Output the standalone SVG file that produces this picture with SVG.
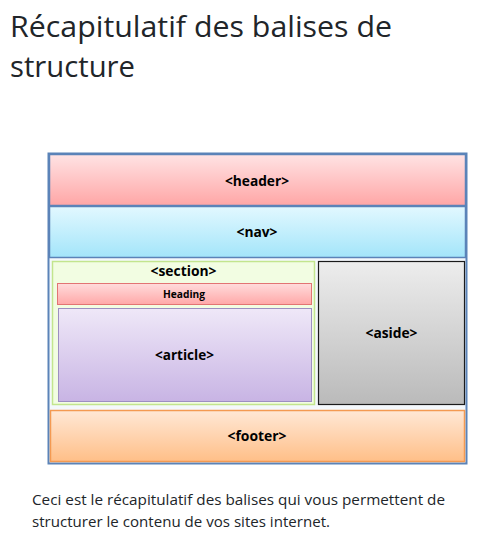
<svg xmlns="http://www.w3.org/2000/svg" width="500" height="555" viewBox="0 0 500 555">
<defs>
<linearGradient id="gHeader" x1="0" y1="0" x2="0" y2="1"><stop offset="0" stop-color="#ffe3e4"/><stop offset="1" stop-color="#ffa6a6"/></linearGradient>
<linearGradient id="gNav" x1="0" y1="0" x2="0" y2="1"><stop offset="0" stop-color="#e2f8ff"/><stop offset="1" stop-color="#a3e5fa"/></linearGradient>
<linearGradient id="gHeading" x1="0" y1="0" x2="0" y2="1"><stop offset="0" stop-color="#ffdcdc"/><stop offset="1" stop-color="#ffa8a8"/></linearGradient>
<linearGradient id="gArticle" x1="0" y1="0" x2="0" y2="1"><stop offset="0" stop-color="#efe8f8"/><stop offset="1" stop-color="#c8b4e4"/></linearGradient>
<linearGradient id="gAside" x1="0" y1="0" x2="0" y2="1"><stop offset="0" stop-color="#ededed"/><stop offset="1" stop-color="#bababa"/></linearGradient>
<linearGradient id="gFooter" x1="0" y1="0" x2="0" y2="1"><stop offset="0" stop-color="#ffe8d6"/><stop offset="1" stop-color="#ffbf88"/></linearGradient>
</defs>
<style>
.lbl{font-family:"Open Sans","Liberation Sans",sans-serif;font-weight:bold;font-size:13.5px;fill:#000;text-anchor:middle}
.small{font-size:10.5px}
.title{font-family:"Open Sans","Noto Sans","Liberation Sans",sans-serif;font-size:29px;fill:#212529}
.para{font-family:"Open Sans","Noto Sans","Liberation Sans",sans-serif;font-size:14px;fill:#212529}
</style>
<rect width="500" height="555" fill="#ffffff"/>
<text class="title" x="10" y="37" textLength="382" lengthAdjust="spacingAndGlyphs">Récapitulatif des balises de</text>
<text class="title" x="10" y="77" textLength="125" lengthAdjust="spacingAndGlyphs">structure</text>

<g id="frame"><rect x="48.5" y="153.5" width="418" height="310" fill="#f4f8fc" stroke="#5b83b8" stroke-width="2"/></g>
<g id="header"><rect x="49.5" y="154.5" width="416" height="51" fill="url(#gHeader)" stroke="#5b83b8" stroke-width="1.5"/><text class="lbl" x="257" y="186" textLength="64" lengthAdjust="spacingAndGlyphs">&lt;header&gt;</text></g>
<g id="nav"><rect x="49.5" y="206.5" width="416" height="51" fill="url(#gNav)" stroke="#5b83b8" stroke-width="1.5"/><text class="lbl" x="257" y="237" textLength="41" lengthAdjust="spacingAndGlyphs">&lt;nav&gt;</text></g>
<g id="section"><rect x="52.5" y="261.5" width="262" height="143" fill="#f2fde2" stroke="#c3e58e" stroke-width="1.5"/><text class="lbl" x="183.5" y="276" textLength="66" lengthAdjust="spacingAndGlyphs">&lt;section&gt;</text></g>
<g id="heading"><rect x="57.5" y="283.5" width="254" height="21" fill="url(#gHeading)" stroke="#e27474" stroke-width="1"/><text class="lbl small" x="184" y="298" textLength="42" lengthAdjust="spacingAndGlyphs">Heading</text></g>
<g id="article"><rect x="58.5" y="308.5" width="253" height="93" fill="url(#gArticle)" stroke="#9d8fc2" stroke-width="1"/><text class="lbl" x="184.5" y="360" textLength="59" lengthAdjust="spacingAndGlyphs">&lt;article&gt;</text></g>
<g id="aside"><rect x="318.5" y="261.5" width="146" height="143" fill="url(#gAside)" stroke="#1a1a1a" stroke-width="1.2"/><text class="lbl" x="391.5" y="338" textLength="52" lengthAdjust="spacingAndGlyphs">&lt;aside&gt;</text></g>
<g id="footer"><rect x="50.5" y="410.5" width="414" height="51" fill="url(#gFooter)" stroke="#f49a52" stroke-width="1.5"/><text class="lbl" x="257" y="441" textLength="59" lengthAdjust="spacingAndGlyphs">&lt;footer&gt;</text></g>
<g id="connectors"></g>

<text class="para" x="32" y="505" textLength="413" lengthAdjust="spacingAndGlyphs">Ceci est le récapitulatif des balises qui vous permettent de</text>
<text class="para" x="32" y="527" textLength="298" lengthAdjust="spacingAndGlyphs">structurer le contenu de vos sites internet.</text>
</svg>
